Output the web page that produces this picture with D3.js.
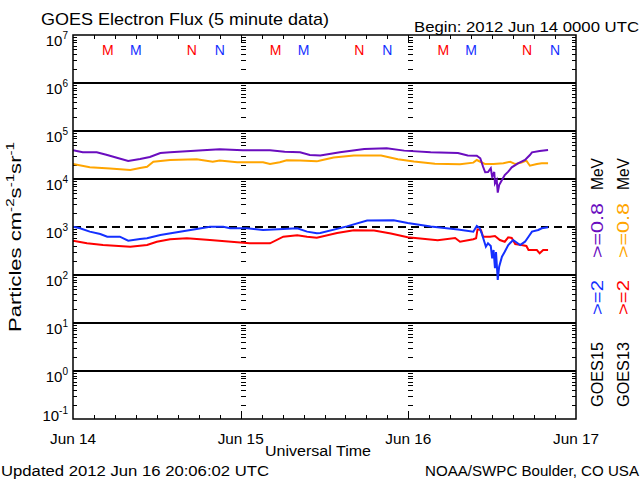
<!DOCTYPE html>
<html><head><meta charset="utf-8">
<script src="https://cdn.jsdelivr.net/npm/d3@7"></script>
<style>
body{margin:0;background:#fff}
svg{display:block;background:#fff}
text{font-family:"Liberation Sans",Arial,sans-serif;fill:#000}
</style>
</head><body>
<svg id="c" width="640" height="480"></svg>
<script>
// ---------------- data ----------------
const timeDomainHours = [0, 72];            // Jun 14 00:00 UT .. Jun 17 00:00 UT
const dayLabels = ["Jun 14", "Jun 15", "Jun 16", "Jun 17"];
const decadeExponents = [-1, 0, 1, 2, 3, 4, 5, 6, 7];
const thresholdFlux = 1000;
const markerHours = [5, 9, 17, 21];          // per day: local midnight / noon
const markerLetters = ["M", "M", "N", "N"];
const markerSats = ["g13", "g15", "g13", "g15"];

// [hours since Jun 14 00 UT, particles cm-2 s-1 sr-1]
const goes15_08MeV = [[0,4.0e4],[1.4,3.6e4],[3.4,3.6e4],[4.9,3.16e4],[6.4,2.74e4],[7.9,2.37e4],[9.6,2.61e4],[11,2.88e4],[12.5,3.48e4],[13.9,3.6e4],[18.6,3.96e4],[21,4.16e4],[24.3,3.96e4],[28.2,3.96e4],[30.3,3.7e4],[32.5,3.6e4],[33.9,3.16e4],[35.4,3.09e4],[38.2,3.6e4],[41.7,4.22e4],[44.9,4.38e4],[47.4,3.9e4],[51.2,3.6e4],[55.1,3.48e4],[56.5,3.09e4],[57.8,3.06e4],[58.3,2.7e4],[58.7,1.8e4],[59.0,1.38e4],[59.4,1.4e4],[59.8,1.67e4],[60.0,1.12e4],[60.3,1.4e4],[60.4,8.1e3],[60.65,9.5e3],[60.8,5.2e3],[61.0,7.5e3],[61.4,9.5e3],[61.8,1.21e4],[62.3,1.42e4],[62.8,1.75e4],[63.7,2.12e4],[64.7,2.49e4],[65.4,3.16e4],[65.7,3.6e4],[66.8,3.83e4],[68,4.02e4]];
const goes13_08MeV = [[0,2.05e4],[2.4,1.75e4],[5.3,1.66e4],[8.2,1.54e4],[9.6,1.69e4],[10.6,1.8e4],[11.5,2.29e4],[13.9,2.49e4],[17.7,2.57e4],[20,2.29e4],[21,2.43e4],[23.5,2.23e4],[27.2,2.23e4],[28.2,2.05e4],[29.6,2.24e4],[30.6,2.45e4],[32.5,2.43e4],[34.9,2.33e4],[35.4,2.43e4],[37.3,2.8e4],[40.2,3.09e4],[44.1,3.09e4],[46.5,2.59e4],[48.8,2.32e4],[51.8,2.07e4],[55.4,2.02e4],[57.3,2.19e4],[57.8,2.49e4],[58.3,2.29e4],[59,2.05e4],[60.2,2.05e4],[61.6,2.12e4],[62.6,2.29e4],[63.3,2.05e4],[64.2,2.19e4],[64.9,2.41e4],[65.4,1.89e4],[66.4,2.05e4],[67.1,2.12e4],[68,2.12e4]];
const goes15_2MeV = [[0,1010],[1,940],[2.4,800],[3.9,715],[4.9,628],[6.7,628],[7.9,519],[9.6,562],[10.6,582],[12.5,681],[15.3,800],[17.7,908],[19.6,1010],[21.5,1010],[22.5,940],[24.9,940],[27.2,866],[30.1,908],[32.1,940],[33.5,800],[34.9,740],[35.4,750],[39.2,1030],[42.1,1360],[45.9,1380],[47.9,1210],[51.2,1030],[55.1,883],[57.3,800],[57.8,1050],[58.2,953],[58.5,740],[58.8,536],[59.1,389],[59.4,457],[59.8,402],[60,223],[60.2,332],[60.4,138],[60.55,301],[60.8,79],[61,149],[61.4,240],[61.8,306],[62.3,422],[63,536],[64,422],[64.7,494],[65.2,628],[65.7,800],[66.6,866],[67.1,940],[68,986]];
const goes13_2MeV = [[0,519],[2,457],[4.3,422],[8.2,389],[10.6,422],[12,494],[13.9,555],[16.3,582],[19.6,536],[23.5,480],[25.3,457],[28.2,457],[30.1,628],[32.1,672],[33.5,628],[34.9,598],[37.8,750],[40.2,854],[43.1,841],[45.5,729],[47.9,613],[52.2,531],[54.7,590],[55.4,494],[57.3,555],[57.7,582],[57.9,895],[58.4,866],[58.7,628],[59.7,628],[60.4,649],[61.1,536],[61.8,494],[62.3,609],[62.8,590],[63.3,442],[64.2,422],[64.9,402],[65.2,332],[66.4,332],[66.8,283],[67.3,332],[68,332]];

const seriesNames = ["goes13_08MeV","goes15_08MeV","goes13_2MeV","goes15_2MeV"];
const seriesData = [goes13_08MeV, goes15_08MeV, goes13_2MeV, goes15_2MeV];

const titleText = "GOES Electron Flux (5 minute data)";
const beginText = "Begin: 2012 Jun 14 0000 UTC";
const xTitleText = "Universal Time";
const updatedText = "Updated 2012 Jun 16 20:06:02 UTC";
const creditText = "NOAA/SWPC Boulder, CO USA";

// ---------------- styles ----------------
const colors = {goes15_08MeV:"#6a0dbf", goes13_08MeV:"#ffa500", goes15_2MeV:"#1430ff", goes13_2MeV:"#ff0000", g13:"#ff0000", g15:"#1430ff"};

const svg = d3.select("#c");
const L = 73, R = 576, T = 35, B = 419;
const x = d3.scaleLinear().domain(timeDomainHours).range([L, R]);
const y = d3.scaleLog().domain([1e-1, 1e7]).range([B, T]);

svg.append("rect").attr("width",640).attr("height",480).attr("fill","#fff");

// minor tick values
const minorVals = [];
decadeExponents.slice(0,-1).forEach(e => { for (let k=2;k<=9;k++) minorVals.push(k*Math.pow(10,e)); });

// decade grid lines (solid), threshold decade drawn dashed
const gridExps = decadeExponents.slice(1,-1).filter(e => Math.pow(10,e) !== thresholdFlux);
svg.append("g").selectAll("line").data(gridExps).join("line")
  .attr("x1",L).attr("x2",R).attr("y1",d=>Math.round(y(Math.pow(10,d)))).attr("y2",d=>Math.round(y(Math.pow(10,d))))
  .attr("stroke","#000").attr("stroke-width",2);

svg.append("line").attr("x1",L).attr("x2",R).attr("y1",Math.round(y(thresholdFlux))).attr("y2",Math.round(y(thresholdFlux)))
  .attr("stroke","#000").attr("stroke-width",2).attr("stroke-dasharray","8,5");

function styleAxis(g){ g.select(".domain").remove(); g.selectAll("line").attr("stroke","#000").attr("stroke-width",1).attr("shape-rendering","crispEdges"); g.selectAll("text").remove(); }

// left/right/day-boundary minor ticks
svg.append("g").attr("transform",`translate(${L},0)`).call(d3.axisRight(y).tickValues(minorVals).tickSize(4)).call(styleAxis);
svg.append("g").attr("transform",`translate(${R},0)`).call(d3.axisLeft(y).tickValues(minorVals).tickSize(4)).call(styleAxis);
[24,48].forEach(h => {
  svg.append("g").attr("transform",`translate(${Math.round(x(h))},0)`).call(d3.axisRight(y).tickValues(minorVals).tickSize(5)).call(styleAxis);
});

// time ticks
const threeHour = d3.range(3,72,3).filter(h=>h%24!==0);
svg.append("g").attr("transform",`translate(0,${B})`).call(d3.axisTop(x).tickValues(threeHour).tickSize(4)).call(styleAxis);
svg.append("g").attr("transform",`translate(0,${B})`).call(d3.axisTop(x).tickValues([24,48]).tickSize(8)).call(styleAxis);
svg.append("g").attr("transform",`translate(0,${T})`).call(d3.axisBottom(x).tickValues(threeHour).tickSize(4)).call(styleAxis);
svg.append("g").attr("transform",`translate(0,${T})`).call(d3.axisBottom(x).tickValues([24,48]).tickSize(8)).call(styleAxis);

// data lines
svg.append("clipPath").attr("id","clip").append("rect").attr("x",L).attr("y",T).attr("width",R-L).attr("height",B-T);
const line = d3.line().x(d=>x(d[0])).y(d=>y(d[1]));
const gl = svg.append("g").attr("clip-path","url(#clip)");
seriesNames.forEach((n,i)=>{
  gl.append("path").datum(seriesData[i]).attr("d",line).attr("fill","none")
    .attr("stroke",colors[n]).attr("stroke-width",2).attr("stroke-linejoin","miter");
});

// frame
svg.append("rect").attr("x",L).attr("y",T).attr("width",R-L).attr("height",B-T)
  .attr("fill","none").attr("stroke","#000").attr("stroke-width",1.5);

// M / N markers
for (let d=0; d<3; d++) markerHours.forEach((h,i)=>{
  svg.append("text").attr("x",x(h+24*d)).attr("y",55).attr("text-anchor","middle")
    .attr("font-size",14).style("fill",colors[markerSats[i]]).text(markerLetters[i]);
});

// y tick labels
decadeExponents.forEach((e,i)=>{
  const ty = y(Math.pow(10,e));
  const base = i===0 ? ty+2 : ty+11;
  const t = svg.append("text").attr("x",68).attr("y",base).attr("text-anchor","end").attr("font-size",15).text("10");
  t.append("tspan").attr("dy",-7).attr("font-size",10).text(String(e));
});

// y title
const yt = svg.append("text").attr("transform","translate(21,332) rotate(-90)")
  .attr("font-size",16).attr("textLength",190).attr("lengthAdjust","spacingAndGlyphs");
yt.append("tspan").text("Particles cm");
yt.append("tspan").attr("dy",-7).attr("font-size",11).text("-2");
yt.append("tspan").attr("dy",7).text("s");
yt.append("tspan").attr("dy",-7).attr("font-size",11).text("-1");
yt.append("tspan").attr("dy",7).text("sr");
yt.append("tspan").attr("dy",-7).attr("font-size",11).text("-1");

// x labels
dayLabels.forEach((lab,i)=>{
  svg.append("text").attr("x",x(i*24)).attr("y",444).attr("text-anchor","middle").attr("font-size",15)
    .attr("textLength",46).attr("lengthAdjust","spacingAndGlyphs").text(lab);
});
svg.append("text").attr("x",265).attr("y",456).attr("font-size",14)
  .attr("textLength",106).attr("lengthAdjust","spacingAndGlyphs").text(xTitleText);

// titles & footer
svg.append("text").attr("x",41).attr("y",25).attr("font-size",17).attr("textLength",288).attr("lengthAdjust","spacingAndGlyphs").text(titleText);
svg.append("text").attr("x",414).attr("y",32).attr("font-size",15).attr("textLength",225).attr("lengthAdjust","spacingAndGlyphs").text(beginText);
svg.append("text").attr("x",1).attr("y",476).attr("font-size",14).attr("textLength",268).attr("lengthAdjust","spacingAndGlyphs").text(updatedText);
svg.append("text").attr("x",425).attr("y",476).attr("font-size",14).attr("textLength",214).attr("lengthAdjust","spacingAndGlyphs").text(creditText);

// right-hand legend (rotated)
const legendCols = [
  {bx:603, items:[["GOES15","#000",407,65],[">=2",colors.goes15_2MeV,315,35],[">=0.8",colors.goes15_08MeV,258,55],["MeV","#000",190,32]]},
  {bx:629, items:[["GOES13","#000",407,65],[">=2",colors.goes13_2MeV,315,35],[">=0.8",colors.goes13_08MeV,258,55],["MeV","#000",190,32]]}
];
legendCols.forEach(col=>col.items.forEach(it=>{
  svg.append("text").attr("transform",`translate(${col.bx},${it[2]}) rotate(-90)`).attr("font-size",16)
    .attr("textLength",it[3]).attr("lengthAdjust","spacingAndGlyphs").style("fill",it[1]).text(it[0]);
}));
</script>
</body></html>
